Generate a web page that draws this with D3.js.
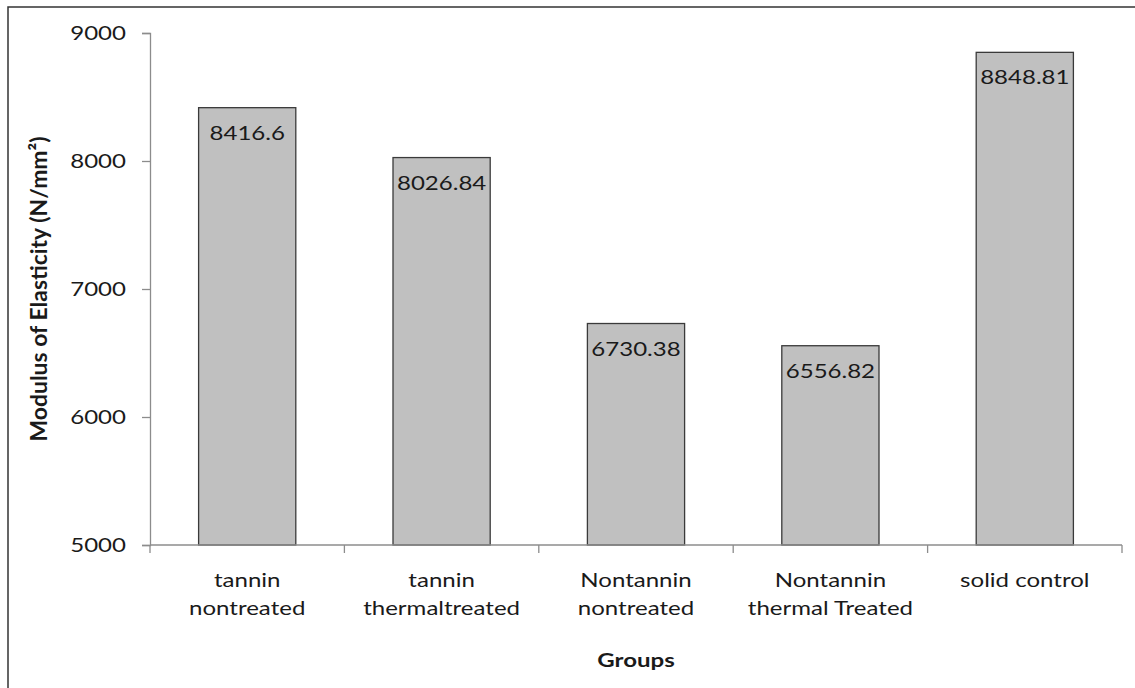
<!DOCTYPE html>
<html>
<head>
<meta charset="utf-8">
<script src="https://cdn.jsdelivr.net/npm/d3@7"></script>
<style>
  body { margin: 0; background: #fff; }
  text { font-family: Lato, "Open Sans", sans-serif; fill: #1a1a1a; }
</style>
</head>
<body>
<svg id="chart" width="1135" height="688"></svg>
<script>
// chart data
const groups = [
  ["tannin", "nontreated"],
  ["tannin", "thermaltreated"],
  ["Nontannin", "nontreated"],
  ["Nontannin", "thermal Treated"],
  ["solid control"]
];
const moe = [8416.6, 8026.84, 6730.38, 6556.82, 8848.81];
const yTicks = [5000, 6000, 7000, 8000, 9000];
const yTitle = "Modulus of Elasticity (N/mm\u00b2)";
const xTitle = "Groups";

const svg = d3.select("#chart");
const plotL = 150, plotR = 1122, plotT = 33, plotB = 545;
const sx = 1.3; // text in the source is a bit stretched sideways
const fs = 18.5;

// outer frame
svg.append("rect")
  .attr("x", 8).attr("y", 7)
  .attr("width", 1140).attr("height", 700)
  .attr("fill", "none").attr("stroke", "#333").attr("stroke-width", 1.5);

const x = d3.scaleBand()
  .domain(d3.range(moe.length))
  .range([plotL, plotR])
  .paddingInner(0.5).paddingOuter(0.25);

const y = d3.scaleLinear().domain([5000, 9000]).range([plotB, plotT]);

// bars
svg.selectAll("rect.bar")
  .data(moe)
  .join("rect")
  .attr("class", "bar")
  .attr("x", (d, i) => x(i))
  .attr("y", d => y(d))
  .attr("width", x.bandwidth())
  .attr("height", d => plotB - y(d))
  .attr("fill", "#c0c0c0")
  .attr("stroke", "#3a3a3a")
  .attr("stroke-width", 1.3);

// value labels
svg.selectAll("text.val")
  .data(moe)
  .join("text")
  .attr("class", "val")
  .attr("text-anchor", "middle")
  .attr("font-size", fs)
  .attr("transform", (d, i) => `translate(${x(i) + x.bandwidth() / 2},${y(d) + 32}) scale(${sx},1)`)
  .text(d => d);

// y axis
const yAxis = svg.append("g")
  .attr("transform", `translate(${plotL},0)`)
  .call(d3.axisLeft(y).tickValues(yTicks).tickSize(8).tickPadding(0).tickFormat(d3.format("d")));
yAxis.select(".domain").attr("stroke", "#8c8c8c").attr("stroke-width", 1.3);
yAxis.selectAll(".tick line").attr("stroke", "#8c8c8c").attr("stroke-width", 1.3);
yAxis.selectAll(".tick text")
  .attr("x", null).attr("dy", null)
  .attr("font-size", fs)
  .attr("text-anchor", "end")
  .attr("transform", `translate(-24,6) scale(${sx},1)`)
  .style("font-family", "Lato, sans-serif")
  .attr("fill", "#1a1a1a");

// x axis: ticks sit on category boundaries
const step = x.step();
const xBounds = d3.range(moe.length + 1).map(i => plotL + i * step);
svg.append("line")
  .attr("x1", plotL).attr("x2", plotR)
  .attr("y1", plotB).attr("y2", plotB)
  .attr("stroke", "#8c8c8c").attr("stroke-width", 1.3);
svg.selectAll("line.xtick")
  .data(xBounds)
  .join("line")
  .attr("class", "xtick")
  .attr("x1", d => d).attr("x2", d => d)
  .attr("y1", plotB).attr("y2", plotB + 8)
  .attr("stroke", "#8c8c8c").attr("stroke-width", 1.3);

// category labels
const cat = svg.selectAll("text.cat")
  .data(groups)
  .join("text")
  .attr("class", "cat")
  .attr("text-anchor", "middle")
  .attr("font-size", fs)
  .attr("transform", (d, i) => `translate(${x(i) + x.bandwidth() / 2},587) scale(${sx},1)`);
cat.selectAll("tspan")
  .data(d => d)
  .join("tspan")
  .attr("x", 0)
  .attr("y", (d, j) => j * 28)
  .text(d => d);

// axis titles
svg.append("text")
  .attr("text-anchor", "middle")
  .attr("font-size", fs)
  .attr("font-weight", "bold")
  .attr("transform", `translate(${(plotL + plotR) / 2},667) scale(${sx},1)`)
  .text(xTitle);

// rotated title: glyphs are stretched across, not along
svg.append("text")
  .attr("text-anchor", "middle")
  .attr("font-size", 19)
  .attr("font-weight", "bold")
  .attr("textLength", 305)
  .attr("lengthAdjust", "spacingAndGlyphs")
  .attr("transform", `translate(47,${(plotT + plotB) / 2}) rotate(-90) scale(1,1.25)`)
  .text(yTitle);
</script>
</body>
</html>
